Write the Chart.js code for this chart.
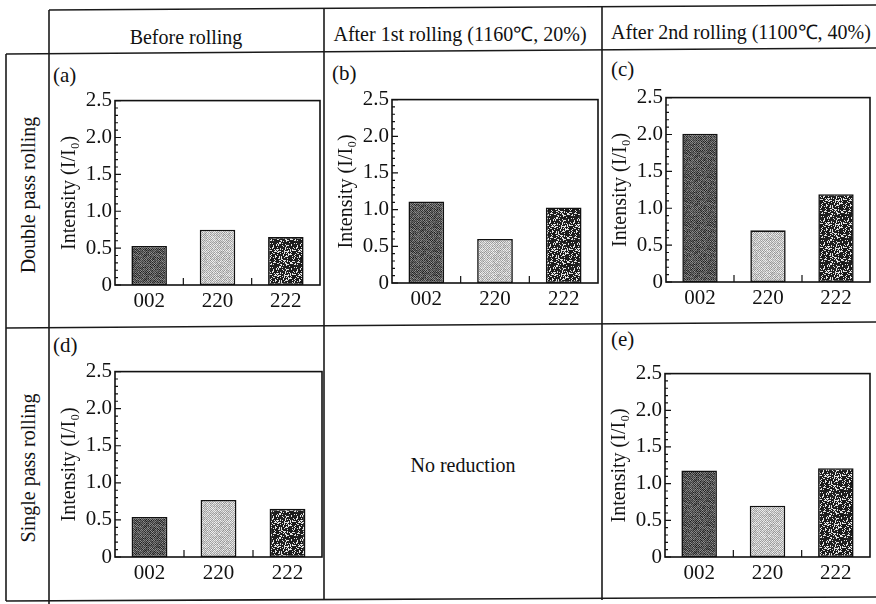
<!DOCTYPE html>
<html>
<head>
<meta charset="utf-8">
<script src="https://cdn.jsdelivr.net/npm/chart.js@4.4.1/dist/chart.umd.min.js"></script>
<style>
  body { margin: 0; background: #fff; }
  #page { position: relative; width: 876px; height: 604px; overflow: hidden; font-family: 'Liberation Serif', 'Times New Roman', serif; color: #111; }
  .txt { position: absolute; font-size: 20px; white-space: nowrap; transform: translate(-50%, -50%); }
  .rot { transform: translate(-50%, -50%) rotate(-90deg); }
  .tag { position: absolute; font-size: 21px; }
  .panel { position: absolute; }
  svg { position: absolute; left: 0; top: 0; }
</style>
</head>
<body>
<div id="page">
  <svg width="876" height="604">
    <g stroke="#1a1a1a" stroke-width="1.6" fill="none">
      <line x1="49" y1="10" x2="876" y2="5"/>
      <line x1="6" y1="54" x2="876" y2="48"/>
      <line x1="6" y1="328" x2="876" y2="322"/>
      <line x1="6" y1="601" x2="876" y2="597"/>
      <line x1="6" y1="54" x2="6" y2="601"/>
      <line x1="49" y1="10" x2="49" y2="604"/>
      <line x1="324" y1="8" x2="324" y2="600"/>
      <line x1="602" y1="6" x2="602" y2="600"/>
    </g>
  </svg>

  <div class="txt" style="left:186px; top:37px;">Before rolling</div>
  <div class="txt" style="left:460px; top:33px;">After 1st rolling (1160℃, 20%)</div>
  <div class="txt" style="left:741px; top:31px;">After 2nd rolling (1100℃, 40%)</div>

  <div class="txt rot" style="left:28px; top:195px;">Double pass rolling</div>
  <div class="txt rot" style="left:28px; top:468px;">Single pass rolling</div>

  <div class="tag" style="left:53px; top:63px;">(a)</div>
  <div class="tag" style="left:332px; top:61px;">(b)</div>
  <div class="tag" style="left:611px; top:57px;">(c)</div>
  <div class="tag" style="left:53px; top:333px;">(d)</div>
  <div class="tag" style="left:611px; top:327px;">(e)</div>

  <div class="txt" style="left:463px; top:465px;">No reduction</div>
</div>

<script>
// reflection peaks and relative intensities
const categories = ['002', '220', '222'];
const valuesA = [0.53, 0.75, 0.65];   // double pass, before rolling
const valuesB = [1.11, 0.60, 1.03];   // double pass, after 1st rolling
const valuesC = [2.01, 0.70, 1.19];   // double pass, after 2nd rolling
const valuesD = [0.54, 0.77, 0.65];   // single pass, before rolling
const valuesE = [1.18, 0.70, 1.21];   // single pass, after 2nd rolling
const yMax = 2.5;
const yStep = 0.5;

Chart.defaults.font.family = "'Liberation Serif', 'Times New Roman', serif";
Chart.defaults.font.size = 21;
Chart.defaults.color = '#111';

// deterministic speckle textures for the bar fills
function hash(x, y, s) {
    let h = (x * 374761393 + y * 668265263 + s * 2147483647) | 0;
    h = (h ^ (h >>> 13)) * 1274126177;
    h = h ^ (h >>> 16);
    return (h >>> 0) / 4294967295;
}

function makePattern(kind) {
    const size = 24;
    const c = document.createElement('canvas');
    c.width = size; c.height = size;
    const g = c.getContext('2d');
    const img = g.createImageData(size, size);
    for (let y = 0; y < size; y++) {
        for (let x = 0; x < size; x++) {
            const r = hash(x, y, kind.length);
            const chk = (x + y) % 2 === 0;
            let v;
            if (kind === 'dark') {
                v = chk ? 55 : 120;
                v += (r - 0.5) * 60;
            } else if (kind === 'light') {
                v = chk ? 165 : 225;
                v += (r - 0.5) * 40;
            } else {
                v = r > 0.75 ? 140 + r * 100 : 20 + r * 25;
            }
            const i = (y * size + x) * 4;
            img.data[i] = img.data[i + 1] = img.data[i + 2] = Math.max(0, Math.min(255, v));
            img.data[i + 3] = 255;
        }
    }
    g.putImageData(img, 0, 0);
    return g.createPattern(c, 'repeat');
}

const fills = [makePattern('dark'), makePattern('light'), makePattern('black')];

// box round the plot, inward minor ticks on y, separators on x
const framePlugin = {
    id: 'frame',
    afterDatasetsDraw(chart) {
        const ctx = chart.ctx;
        const a = chart.chartArea;
        const ys = chart.scales.y;
        const xs = chart.scales.x;
        ctx.save();
        ctx.strokeStyle = '#111';
        ctx.lineWidth = 1.6;
        ctx.strokeRect(a.left, a.top, a.right - a.left, a.bottom - a.top);
        ctx.lineWidth = 1.2;
        ctx.beginPath();
        for (let i = 0; i <= yMax * 10; i++) {
            const y = ys.getPixelForValue(i / 10);
            const len = i % 5 === 0 ? 6 : 3;
            ctx.moveTo(a.left, y);
            ctx.lineTo(a.left + len, y);
        }
        for (let i = 0; i < categories.length - 1; i++) {
            const x = (xs.getPixelForValue(i) + xs.getPixelForValue(i + 1)) / 2;
            ctx.moveTo(x, a.bottom);
            ctx.lineTo(x, a.bottom - 7);
        }
        ctx.stroke();
        ctx.restore();
    }
};

const Y_W = 58, X_H = 40, PAD_L = 4, PAD_T = 14, PAD_R = 6;

function makePanel(values, box) {
    const canvas = document.createElement('canvas');
    const w = PAD_L + Y_W + (box.right - box.left) + PAD_R;
    const h = PAD_T + (box.bottom - box.top) + X_H;
    canvas.width = w;
    canvas.height = h;
    canvas.className = 'panel';
    canvas.style.left = (box.left - Y_W - PAD_L) + 'px';
    canvas.style.top = (box.top - PAD_T) + 'px';
    canvas.style.width = w + 'px';
    canvas.style.height = h + 'px';
    document.getElementById('page').appendChild(canvas);

    new Chart(canvas.getContext('2d'), {
        type: 'bar',
        data: {
            labels: categories,
            datasets: [{
                data: values,
                backgroundColor: fills,
                borderColor: '#111',
                borderWidth: 1.6,
                borderSkipped: false,
                barPercentage: 0.52,
                categoryPercentage: 1.0
            }]
        },
        options: {
            responsive: false,
            animation: false,
            devicePixelRatio: 1,
            layout: { autoPadding: false, padding: { left: PAD_L, top: PAD_T, right: PAD_R, bottom: 0 } },
            plugins: { legend: { display: false }, tooltip: { enabled: false } },
            scales: {
                x: {
                    offset: true,
                    grid: { display: false, drawTicks: false },
                    border: { display: false },
                    ticks: { padding: 4, maxRotation: 0 },
                    afterFit(s) { s.height = X_H; }
                },
                y: {
                    min: 0,
                    max: yMax,
                    grid: { display: false, drawTicks: false },
                    border: { display: false },
                    ticks: {
                        stepSize: yStep,
                        padding: 3,
                        callback: v => (v === 0 ? '0' : v.toFixed(1))
                    },
                    title: { display: true, text: 'Intensity (I/I₀)', font: { size: 20 }, padding: { top: 1, bottom: 0 } },
                    afterFit(s) { s.width = Y_W; }
                }
            }
        },
        plugins: [framePlugin]
    });
}

makePanel(valuesA, { left: 115, top: 99, right: 320, bottom: 285 });
makePanel(valuesB, { left: 392, top: 98, right: 598, bottom: 283 });
makePanel(valuesC, { left: 666, top: 96, right: 870, bottom: 282 });
makePanel(valuesD, { left: 115, top: 370, right: 322, bottom: 557 });
makePanel(valuesE, { left: 665, top: 372, right: 870, bottom: 557 });
</script>
</body>
</html>
